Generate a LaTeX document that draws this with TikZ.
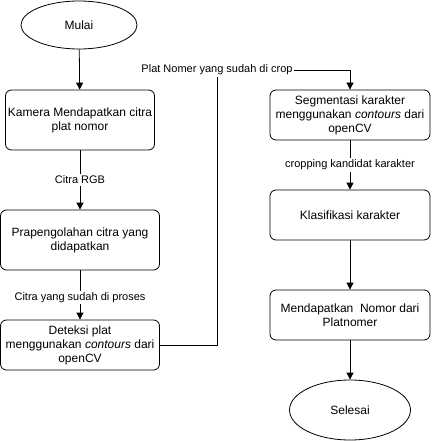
\documentclass[tikz,border=0pt]{standalone}
\usepackage{fontspec}
\setmainfont{Liberation Sans}
\usetikzlibrary{positioning, arrows.meta, shapes, calc}

\tikzset{
  prosesbox/.style={draw, rounded corners=6pt, line width=0.8pt, align=center,
    inner sep=0pt, font=\fontsize{12}{14}\selectfont},
  terminal/.style={draw, ellipse, line width=0.8pt, inner sep=0pt,
    font=\fontsize{12}{14}\selectfont},
  alur/.style={-{Triangle[length=7pt,width=7pt]}, line width=0.8pt},
  ket/.style={fill=white, inner sep=1.5pt, font=\fontsize{11}{13}\selectfont}
}

\begin{document}
\begin{tikzpicture}[x=1pt, y=-1pt]
    \useasboundingbox (0,0) rectangle (431,441);
    % kolom kiri
    \node[terminal, minimum width=116pt, minimum height=48pt] (mulai) at (79,25) {Mulai};
    \node[prosesbox, minimum width=149pt, minimum height=60pt] (kamera) at (80,120)
        {Kamera Mendapatkan citra\\plat nomor};
    \node[prosesbox, minimum width=159pt, minimum height=60pt] (prapro) at (80,240)
        {Prapengolahan citra yang\\didapatkan};
    \node[prosesbox, minimum width=159pt, minimum height=50pt] (deteksi) at (80,345)
        {Deteksi plat\\menggunakan \textit{contours} dari\\openCV};
    % kolom kanan
    \node[prosesbox, minimum width=160pt, minimum height=50pt] (segmen) at (350,115)
        {Segmentasi karakter\\menggunakan \textit{contours} dari\\openCV};
    \node[prosesbox, minimum width=160pt, minimum height=50pt] (klasif) at (350,215)
        {Klasifikasi karakter};
    \node[prosesbox, minimum width=160pt, minimum height=50pt] (nomor) at (350,315)
        {Mendapatkan\ \ Nomor dari\\Platnomer};
    \node[terminal, minimum width=121pt, minimum height=60pt] (selesai) at (350,410) {Selesai};
    \coordinate (tekuk) at (217,70);

    % panah
    \draw[alur] (mulai) -- (kamera);
    \draw[alur] (kamera) -- node[ket] {Citra RGB} (prapro);
    \draw[alur] (prapro) -- node[ket, pos=0.55] {Citra yang sudah di proses} (deteksi);
    \draw[alur] (deteksi.east) -| (tekuk) node[ket] {Plat Nomer yang sudah di crop} -| (segmen.north);
    \draw[alur] (segmen) -- node[ket] {cropping kandidat karakter} (klasif);
    \draw[alur] (klasif) -- (nomor);
    \draw[alur] (nomor) -- (selesai);
\end{tikzpicture}
\end{document}
